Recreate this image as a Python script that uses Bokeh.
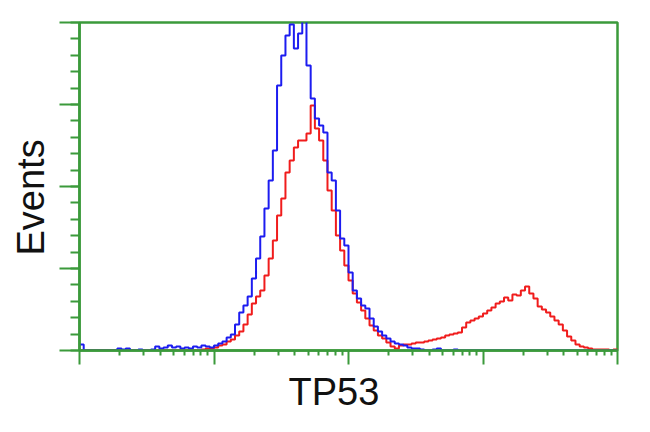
from bokeh.plotting import figure
from bokeh.models import Range1d, FixedTicker, Title, CustomJSTickFormatter
from bokeh.embed import file_html
from bokeh.resources import INLINE

# Histogram channels: 128 bins spanning 4 decades (10^0 .. 10^4), 32 bins per decade
bins_per_decade = 32
n_bins = 128

# Event counts per channel
blue_counts = [6, 0, 0, 0, 0, 0, 0, 0, 0, 2,
               1, 2, 0, 0, 1, 0, 0, 1, 4, 2,
               3, 5, 3, 4, 2, 3, 2, 4, 3, 5,
               4, 3, 5, 7, 9, 13, 16, 26, 38, 45,
               54, 72, 92, 114, 142, 170, 200, 265, 295, 315,
               326, 302, 317, 330, 285, 252, 232, 225, 218, 178,
               170, 140, 112, 105, 78, 60, 52, 45, 42, 32,
               24, 19, 15, 12, 9, 7, 6, 5, 3, 2,
               2, 1, 0, 0, 1, 2, 0, 0, 0, 1] + [0] * 38

red_counts = [0] * 29 + [1,
              2, 2, 3, 5, 6, 9, 11, 15, 19, 26,
              36, 47, 54, 60, 75, 92, 110, 135, 152, 178,
              190, 203, 210, 210, 217, 245, 222, 210, 190, 160,
              140, 115, 100, 85, 70, 57, 48, 40, 32, 25,
              20, 15, 12, 8, 4, 2, 5, 6, 6, 7,
              8, 8, 9, 10, 11, 12, 13, 15, 16, 17,
              18, 23, 28, 30, 32, 34, 37, 40, 43, 47,
              49, 53, 50, 56, 55, 60, 64, 57, 52, 44,
              41, 38, 34, 30, 26, 20, 14, 10, 6, 4,
              3, 2, 1, 1, 1, 1, 0, 1]

x_major = [1, 10, 100, 1000, 10000]
x_minor = [m * 10 ** d for d in range(4) for m in range(2, 10)]
y_max = 328
y_major = [0, 82, 164, 246, 328]
y_minor = [round(k * 16.4, 1) for k in range(21)]

edges = [10 ** (i / bins_per_decade) for i in range(n_bins + 1)]

GREEN = "#3b9a3b"
FONT = "Liberation Sans"

p = figure(width=642, height=416, x_axis_type="log",
           x_range=Range1d(1, 10000), y_range=Range1d(0, y_max),
           output_backend="svg", toolbar_location=None,
           min_border_left=79, min_border_right=25,
           min_border_top=22, min_border_bottom=58)

p.background_fill_color = "white"
p.border_fill_color = "white"
p.xgrid.visible = False
p.ygrid.visible = False
p.outline_line_color = GREEN
p.outline_line_width = 2.5

p.step(edges, red_counts + [red_counts[-1]], mode="after",
       line_color="#f01c1c", line_width=2)
p.step(edges, blue_counts + [blue_counts[-1]], mode="after",
       line_color="#1c1cf0", line_width=2)

xa = p.xaxis[0]
xa.ticker = FixedTicker(ticks=x_major, minor_ticks=x_minor)
ya = p.yaxis[0]
ya.ticker = FixedTicker(ticks=y_major, minor_ticks=y_minor)

for ax in (xa, ya):
    ax.formatter = CustomJSTickFormatter(code="return ''")
    ax.axis_line_color = GREEN
    ax.axis_line_width = 2.5
    ax.major_tick_line_color = GREEN
    ax.minor_tick_line_color = GREEN
    ax.major_tick_line_width = 2
    ax.minor_tick_line_width = 2
    ax.major_tick_in = 0
    ax.minor_tick_in = 0
    ax.major_label_text_font_size = "1px"
    ax.major_label_standoff = 0

xa.major_tick_out = 14
xa.minor_tick_out = 5
ya.major_tick_out = 20
ya.minor_tick_out = 9

p.add_layout(Title(text="TP53", align="left", offset=209, standoff=8,
                   text_font=FONT, text_font_size="38px",
                   text_font_style="normal", text_color="#111111"), "below")
p.add_layout(Title(text="Events", align="left", offset=95, standoff=15,
                   text_font=FONT, text_font_size="38px",
                   text_font_style="normal", text_color="#111111"), "left")

open("out.html", "w").write(file_html(p, INLINE))
